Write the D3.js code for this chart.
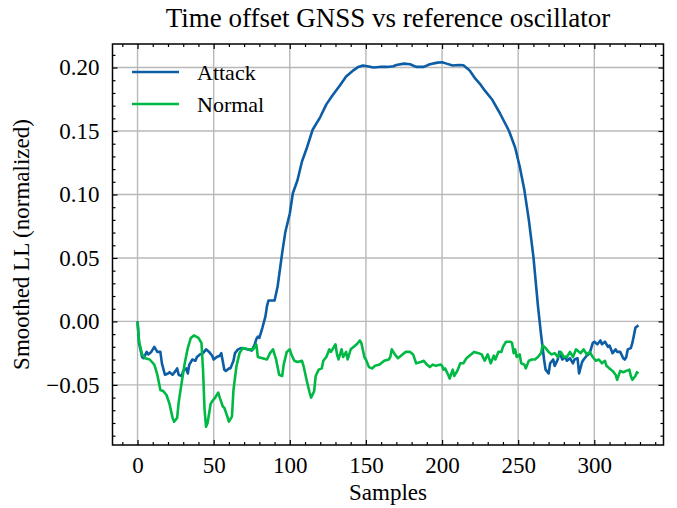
<!DOCTYPE html>
<html>
<head>
<meta charset="utf-8">
<script src="https://cdn.jsdelivr.net/npm/d3@7"></script>
<style>
  html, body { margin: 0; padding: 0; background: #fff; }
  svg text { font-family: "Liberation Serif", "Times New Roman", serif !important; fill: #000; }
</style>
</head>
<body>
<svg id="chart" width="677" height="508"></svg>
<script>
// ---------------- data ----------------
const title = "Time offset GNSS vs reference oscillator";
const xLabel = "Samples";
const yLabel = "Smoothed LL (normalized)";
const seriesNames = ["Attack", "Normal"];
const seriesColors = ["#0C5DA5", "#00B945"];
const xTicks = [0, 50, 100, 150, 200, 250, 300];
const yTicks = [-0.05, 0.00, 0.05, 0.10, 0.15, 0.20];

const attackX = [0,1,3,4,6,7,9,11,13,15,16,18,20,21,23,25,26,27,29,30,32,33,34,36,38,39,41,43,45,47,49,50,52,54,55,57,58,60,61,63,64,66,68,72,75,77,78,79,80,82,84,85,86,90,92,95,97,100,102,105,108,111,115,120,124,128,133,137,142,145,148,151,155,159,164,168,170,175,179,183,188,192,197,200,203,207,211,214,218,222,225,228,233,238,244,248,251,254,257,260,263,265,267,268,270,271,273,274,276,277,279,281,282,284,286,287,289,290,292,293,295,297,299,300,302,304,305,307,309,310,312,314,315,317,319,320,321,322,324,325,326,327,329];
const attackY = [0.000,-0.017,-0.028,-0.029,-0.024,-0.026,-0.024,-0.020,-0.024,-0.024,-0.033,-0.042,-0.041,-0.040,-0.042,-0.039,-0.037,-0.042,-0.043,-0.039,-0.037,-0.041,-0.034,-0.030,-0.031,-0.028,-0.026,-0.025,-0.022,-0.024,-0.027,-0.030,-0.028,-0.027,-0.025,-0.038,-0.039,-0.037,-0.037,-0.031,-0.025,-0.022,-0.021,-0.022,-0.023,-0.018,-0.014,-0.012,-0.013,-0.005,0.004,0.012,0.0165,0.0165,0.0275,0.054,0.070,0.085,0.101,0.111,0.126,0.136,0.151,0.161,0.171,0.178,0.186,0.193,0.198,0.2005,0.2016,0.2010,0.2000,0.2005,0.2005,0.2010,0.2020,0.2031,0.2026,0.2005,0.2005,0.2026,0.2039,0.2042,0.2031,0.2016,0.2020,0.2018,0.1979,0.191,0.187,0.182,0.1746,0.164,0.150,0.137,0.122,0.104,0.080,0.051,0.012,-0.010,-0.030,-0.038,-0.041,-0.033,-0.030,-0.035,-0.030,-0.024,-0.030,-0.028,-0.031,-0.029,-0.033,-0.030,-0.029,-0.041,-0.032,-0.030,-0.027,-0.025,-0.017,-0.016,-0.018,-0.015,-0.018,-0.016,-0.020,-0.019,-0.025,-0.022,-0.024,-0.024,-0.029,-0.030,-0.028,-0.022,-0.021,-0.017,-0.011,-0.005,-0.003];

const normalX = [0,1,3,5,8,11,13,15,17,19,21,23,24,26,27,29,31,33,35,37,40,42,43,44,45,46,48,49,51,53,54,56,57,59,60,62,63,65,67,69,73,76,78,79,82,85,87,89,91,93,95,96,98,100,101,103,105,108,109,111,113,114,116,117,119,121,122,124,126,127,129,130,131,132,134,135,137,138,140,142,144,146,147,149,150,152,154,156,159,162,165,166,167,169,171,173,176,179,181,183,186,188,190,192,194,196,199,200,201,202,204,205,207,208,210,212,214,216,218,221,224,226,228,230,232,234,235,237,239,240,242,245,246,247,248,249,251,252,254,255,257,259,261,263,265,266,268,270,272,274,276,278,280,282,284,286,288,291,293,295,297,299,301,303,305,307,308,310,312,314,315,317,319,321,323,324,325,327,328,329];
const normalY = [0.000,-0.016,-0.026,-0.029,-0.030,-0.034,-0.042,-0.054,-0.055,-0.058,-0.065,-0.076,-0.079,-0.076,-0.064,-0.048,-0.033,-0.021,-0.013,-0.011,-0.013,-0.017,-0.038,-0.069,-0.083,-0.080,-0.065,-0.063,-0.060,-0.056,-0.060,-0.067,-0.068,-0.075,-0.079,-0.075,-0.054,-0.035,-0.025,-0.021,-0.022,-0.022,-0.018,-0.028,-0.029,-0.030,-0.025,-0.022,-0.030,-0.042,-0.043,-0.034,-0.024,-0.022,-0.026,-0.031,-0.032,-0.031,-0.035,-0.046,-0.056,-0.060,-0.055,-0.043,-0.038,-0.037,-0.031,-0.028,-0.022,-0.024,-0.020,-0.018,-0.026,-0.030,-0.022,-0.028,-0.024,-0.030,-0.022,-0.020,-0.018,-0.015,-0.017,-0.028,-0.030,-0.036,-0.037,-0.035,-0.034,-0.031,-0.030,-0.028,-0.022,-0.026,-0.029,-0.027,-0.024,-0.024,-0.026,-0.033,-0.032,-0.031,-0.034,-0.036,-0.034,-0.035,-0.034,-0.035,-0.038,-0.037,-0.042,-0.045,-0.038,-0.043,-0.039,-0.033,-0.033,-0.029,-0.027,-0.024,-0.025,-0.026,-0.031,-0.026,-0.033,-0.027,-0.030,-0.024,-0.024,-0.020,-0.016,-0.016,-0.017,-0.025,-0.022,-0.028,-0.026,-0.033,-0.034,-0.037,-0.031,-0.030,-0.030,-0.028,-0.025,-0.019,-0.021,-0.024,-0.026,-0.025,-0.028,-0.024,-0.028,-0.028,-0.024,-0.028,-0.022,-0.025,-0.022,-0.026,-0.024,-0.028,-0.031,-0.030,-0.033,-0.031,-0.035,-0.037,-0.039,-0.042,-0.046,-0.039,-0.040,-0.039,-0.038,-0.043,-0.046,-0.043,-0.040,-0.041];

// ---------------- layout ----------------
const W = 677, H = 508;
const m = { left: 112.5, right: 13.5, top: 44, bottom: 63 };
const pw = W - m.left - m.right, ph = H - m.top - m.bottom;
const FONT = '"Liberation Serif", "Times New Roman", serif';

const svg = d3.select("#chart");

const xMin = d3.min(attackX.concat(normalX)), xMax = d3.max(attackX.concat(normalX));
const yAll = attackY.concat(normalY);
const yMin = d3.min(yAll), yMax = d3.max(yAll);
const xPad = (xMax - xMin) * 0.05, yPad = (yMax - yMin) * 0.05;

const x = d3.scaleLinear().domain([xMin - xPad, xMax + xPad]).range([m.left, m.left + pw]);
const y = d3.scaleLinear().domain([yMin - yPad, yMax + yPad]).range([m.top + ph, m.top]);

const xMinor = d3.range(-10, 350, 10).filter(v => v > x.domain()[0] && v < x.domain()[1] && v % 50 !== 0);
const yMinor = d3.range(-9, 22).map(v => v / 100).filter(v => v > y.domain()[0] && v < y.domain()[1] && Math.abs(Math.round(v * 100) % 5) !== 0);

// grid
const grid = svg.append("g").attr("stroke", "#b8b8b8").attr("stroke-width", 1.4);
xTicks.forEach(t => grid.append("line").attr("x1", x(t)).attr("x2", x(t)).attr("y1", m.top).attr("y2", m.top + ph));
yTicks.forEach(t => grid.append("line").attr("y1", y(t)).attr("y2", y(t)).attr("x1", m.left).attr("x2", m.left + pw));

// lines
svg.append("clipPath").attr("id", "clip").append("rect")
  .attr("x", m.left).attr("y", m.top).attr("width", pw).attr("height", ph);
const line = d3.line().x(d => x(d[0])).y(d => y(d[1]));
const series = [d3.zip(attackX, attackY), d3.zip(normalX, normalY)];
series.forEach((s, i) => {
  svg.append("path").datum(s).attr("d", line)
    .attr("fill", "none").attr("stroke", seriesColors[i]).attr("stroke-width", 2.6)
    .attr("stroke-linejoin", "round").attr("clip-path", "url(#clip)");
});

// axes (ticks inward on all sides)
const fmtY = v => d3.format(".2f")(v).replace("-", "\u2212");
const MAJ = 5, MIN = 3;
function styleAxis(g) {
  g.attr("font-family", FONT).attr("font-size", 23);
  g.select(".domain").remove();
  g.selectAll("line").attr("stroke", "#000").attr("stroke-width", 1.2);
  g.selectAll("text").attr("font-family", FONT).attr("font-size", 23).attr("fill", "#000");
}
// bottom
svg.append("g").attr("transform", `translate(0,${m.top + ph})`)
  .call(d3.axisBottom(x).tickValues(xTicks).tickSizeInner(-MAJ).tickSizeOuter(0).tickPadding(12).tickFormat(d3.format("d")))
  .call(styleAxis);
svg.append("g").attr("transform", `translate(0,${m.top + ph})`)
  .call(d3.axisBottom(x).tickValues(xMinor).tickSizeInner(-MIN).tickSizeOuter(0).tickFormat(""))
  .call(styleAxis);
// top
svg.append("g").attr("transform", `translate(0,${m.top})`)
  .call(d3.axisTop(x).tickValues(xTicks).tickSizeInner(-MAJ).tickSizeOuter(0).tickFormat(""))
  .call(styleAxis);
svg.append("g").attr("transform", `translate(0,${m.top})`)
  .call(d3.axisTop(x).tickValues(xMinor).tickSizeInner(-MIN).tickSizeOuter(0).tickFormat(""))
  .call(styleAxis);
// left
svg.append("g").attr("transform", `translate(${m.left},0)`)
  .call(d3.axisLeft(y).tickValues(yTicks).tickSizeInner(-MAJ).tickSizeOuter(0).tickPadding(13).tickFormat(fmtY))
  .call(styleAxis);
svg.append("g").attr("transform", `translate(${m.left},0)`)
  .call(d3.axisLeft(y).tickValues(yMinor).tickSizeInner(-MIN).tickSizeOuter(0).tickFormat(""))
  .call(styleAxis);
// right
svg.append("g").attr("transform", `translate(${m.left + pw},0)`)
  .call(d3.axisRight(y).tickValues(yTicks).tickSizeInner(-MAJ).tickSizeOuter(0).tickFormat(""))
  .call(styleAxis);
svg.append("g").attr("transform", `translate(${m.left + pw},0)`)
  .call(d3.axisRight(y).tickValues(yMinor).tickSizeInner(-MIN).tickSizeOuter(0).tickFormat(""))
  .call(styleAxis);

// frame
svg.append("rect").attr("x", m.left).attr("y", m.top).attr("width", pw).attr("height", ph)
  .attr("fill", "none").attr("stroke", "#000").attr("stroke-width", 1.5);

// title & labels
svg.append("text").attr("x", m.left + pw / 2).attr("y", 27).attr("text-anchor", "middle")
  .attr("font-family", FONT).attr("font-size", 27).text(title);
svg.append("text").attr("x", m.left + pw / 2).attr("y", 500).attr("text-anchor", "middle")
  .attr("font-family", FONT).attr("font-size", 23).text(xLabel);
svg.append("text").attr("transform", `translate(29,${m.top + ph / 2}) rotate(-90)`).attr("text-anchor", "middle")
  .attr("font-family", FONT).attr("font-size", 23).text(yLabel);

// legend
const lg = svg.append("g");
seriesNames.forEach((n, i) => {
  const ly = 72 + i * 32;
  lg.append("line").attr("x1", 132).attr("x2", 179).attr("y1", ly).attr("y2", ly)
    .attr("stroke", seriesColors[i]).attr("stroke-width", 2.6);
  lg.append("text").attr("x", 197).attr("y", ly).attr("dy", "0.35em")
    .attr("font-family", FONT).attr("font-size", 22).text(n);
});
</script>
</body>
</html>
